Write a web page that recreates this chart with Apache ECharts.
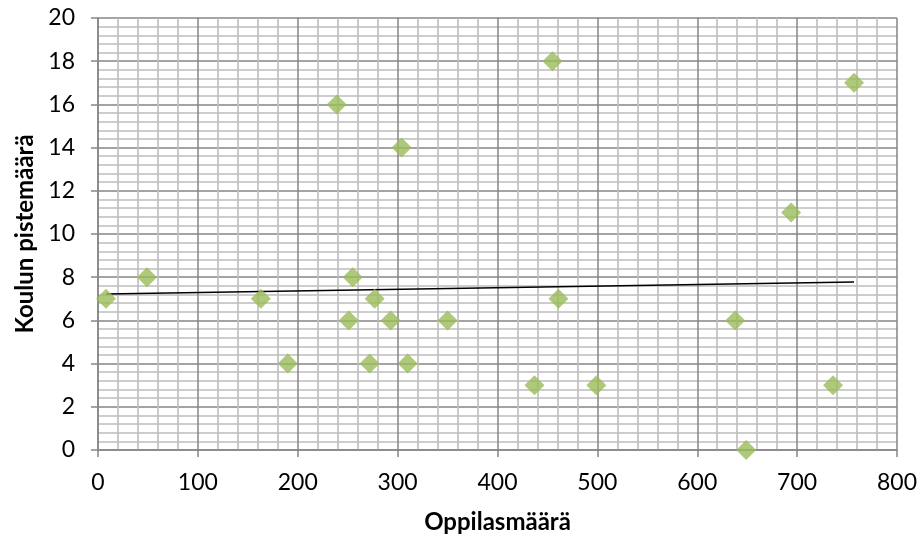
<!DOCTYPE html>
<html>
<head>
<meta charset="utf-8">
<script src="https://cdn.jsdelivr.net/npm/echarts@6/dist/echarts.min.js"></script>
<style>
  html, body { margin: 0; padding: 0; background: #fff; }
  #chart { width: 922px; height: 539px; }
</style>
</head>
<body>
<div id="chart"></div>
<script>
// Oppilasmäärä (x) ja koulun pistemäärä (y) kouluittain
const students = [8, 49, 163, 190, 239, 251, 255, 272, 277, 293, 304, 310, 350, 437, 455, 461, 499, 638, 649, 694, 736, 757];
const points   = [7, 8, 7, 4, 16, 6, 8, 4, 7, 6, 14, 4, 6, 3, 18, 7, 3, 6, 0, 11, 3, 17];

const xTitle = 'Oppilasmäärä';
const yTitle = 'Koulun pistemäärä';

// Least-squares linear trend line over the data
function linearFit(xs, ys) {
  const n = xs.length;
  const mx = xs.reduce((a, b) => a + b, 0) / n;
  const my = ys.reduce((a, b) => a + b, 0) / n;
  let sxy = 0, sxx = 0;
  for (let i = 0; i < n; i++) {
    sxy += (xs[i] - mx) * (ys[i] - my);
    sxx += (xs[i] - mx) * (xs[i] - mx);
  }
  const b = sxy / sxx;
  return { a: my - b * mx, b };
}
const fit = linearFit(students, points);
const xMin = Math.min(...students), xMax = Math.max(...students);
const trend = [[xMin, fit.a + fit.b * xMin], [xMax, fit.a + fit.b * xMax]];

const font = 'Lato, "Open Sans", sans-serif';
const majorColor = '#868686';
const minorColor = '#bdbdbd';

const chart = echarts.init(document.getElementById('chart'), null, { renderer: 'canvas' });
chart.setOption({
  animation: false,
  grid: { left: 98, right: 25, top: 18, bottom: 88, containLabel: false },
  xAxis: {
    type: 'value', min: 0, max: 800, interval: 100,
    name: xTitle, nameLocation: 'middle', nameGap: 60,
    nameTextStyle: { fontFamily: font, fontSize: 24, fontWeight: 'bold', color: '#000' },
    axisLine: { show: true, onZero: false, lineStyle: { color: majorColor, width: 1.5 } },
    axisTick: { show: true, length: 7, lineStyle: { color: majorColor, width: 1.5 } },
    axisLabel: { fontFamily: font, fontSize: 23, color: '#000', margin: 21 },
    splitLine: { show: true, lineStyle: { color: majorColor, width: 1.5 } },
    minorTick: { show: false, splitNumber: 5 },
    minorSplitLine: { show: true, lineStyle: { color: minorColor, width: 1.6 } }
  },
  yAxis: {
    type: 'value', min: 0, max: 20, interval: 2,
    name: yTitle, nameLocation: 'middle', nameGap: 54, nameRotate: 90,
    nameTextStyle: { fontFamily: font, fontSize: 24, fontWeight: 'bold', color: '#000' },
    axisLine: { show: true, onZero: false, lineStyle: { color: majorColor, width: 1.5 } },
    axisTick: { show: true, length: 7, lineStyle: { color: majorColor, width: 1.5 } },
    axisLabel: { fontFamily: font, fontSize: 23, color: '#000', margin: 23 },
    splitLine: { show: true, lineStyle: { color: majorColor, width: 1.5 } },
    minorTick: { show: false, splitNumber: 5 },
    minorSplitLine: { show: true, lineStyle: { color: minorColor, width: 1.6 } }
  },
  series: [
    {
      type: 'scatter',
      data: students.map((x, i) => [x, points[i]]),
      symbol: 'diamond',
      symbolSize: [20, 20],
      itemStyle: { color: '#9bbb59' },
      z: 3
    },
    {
      type: 'line',
      data: trend,
      showSymbol: false,
      symbol: 'none',
      lineStyle: { color: '#000', width: 1.5 },
      silent: true,
      z: 2
    }
  ]
});
</script>
</body>
</html>
